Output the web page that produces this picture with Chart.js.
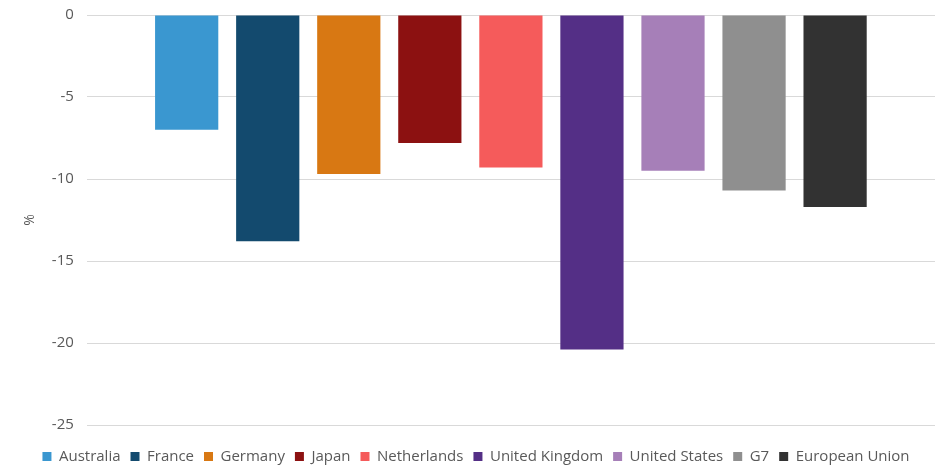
<!DOCTYPE html>
<html>
<head>
<meta charset="utf-8">
<script src="https://cdn.jsdelivr.net/npm/chart.js@4"></script>
<style>
  html, body { margin: 0; padding: 0; background: #fff; overflow: hidden; }
  #wrap { width: 935px; height: 481px; margin-top: -7px; }
</style>
</head>
<body>
<div id="wrap"><canvas id="gdp_chart"></canvas></div>
<script>
  // countries and their values (%)
  const countries = ['Australia', 'France', 'Germany', 'Japan', 'Netherlands',
    'United Kingdom', 'United States', 'G7', 'European Union'];
  const values = [-7.0, -13.8, -9.7, -7.8, -9.3, -20.4, -9.5, -10.7, -11.7];
  const colors = ['#3a97d0', '#134a6e', '#d87813', '#8c1111', '#f55b5b',
    '#542f86', '#a67fb8', '#8f8f8f', '#323232'];
  const y_ticks = [0, -5, -10, -15, -20, -25];

  const textColor = '#595959';
  Chart.defaults.font.family = '"Open Sans", "Noto Sans", sans-serif';
  Chart.defaults.font.size = 15;
  Chart.defaults.color = textColor;

  // one dataset per country so each gets a legend entry
  const datasets = countries.map((name, i) => ({
    label: name,
    data: [values[i]],
    backgroundColor: colors[i],
    borderWidth: 0,
    categoryPercentage: 0.86,
    barPercentage: 0.78
  }));

  const config = {
    type: 'bar',
    data: { labels: [''], datasets: datasets },
    options: {
      responsive: true,
      maintainAspectRatio: false,
      animation: false,
      layout: { padding: { top: 0, right: 0, left: 17, bottom: 0 } },
      plugins: {
        legend: {
          position: 'bottom',
          labels: { boxWidth: 9, boxHeight: 9, padding: 10, color: textColor,
            font: { size: 15 } }
        },
        tooltip: { enabled: false }
      },
      scales: {
        x: {
          grid: { display: false },
          border: { display: false },
          ticks: { display: false },
          afterFit: (axis) => { axis.height = 14; } // gap above legend
        },
        y: {
          min: Math.min(...y_ticks),
          max: Math.max(...y_ticks),
          afterBuildTicks: (axis) => { axis.ticks = y_ticks.map(v => ({ value: v })); },
          grid: { color: '#d9d9d9', drawTicks: false },
          border: { display: false },
          ticks: { padding: 13, color: textColor, font: { size: 15 } },
          title: { display: true, text: '%', color: textColor, font: { size: 14 },
            padding: { top: 5, bottom: 0 } }
        }
      }
    }
  };

  new Chart(document.getElementById('gdp_chart'), config);
</script>
</body>
</html>
